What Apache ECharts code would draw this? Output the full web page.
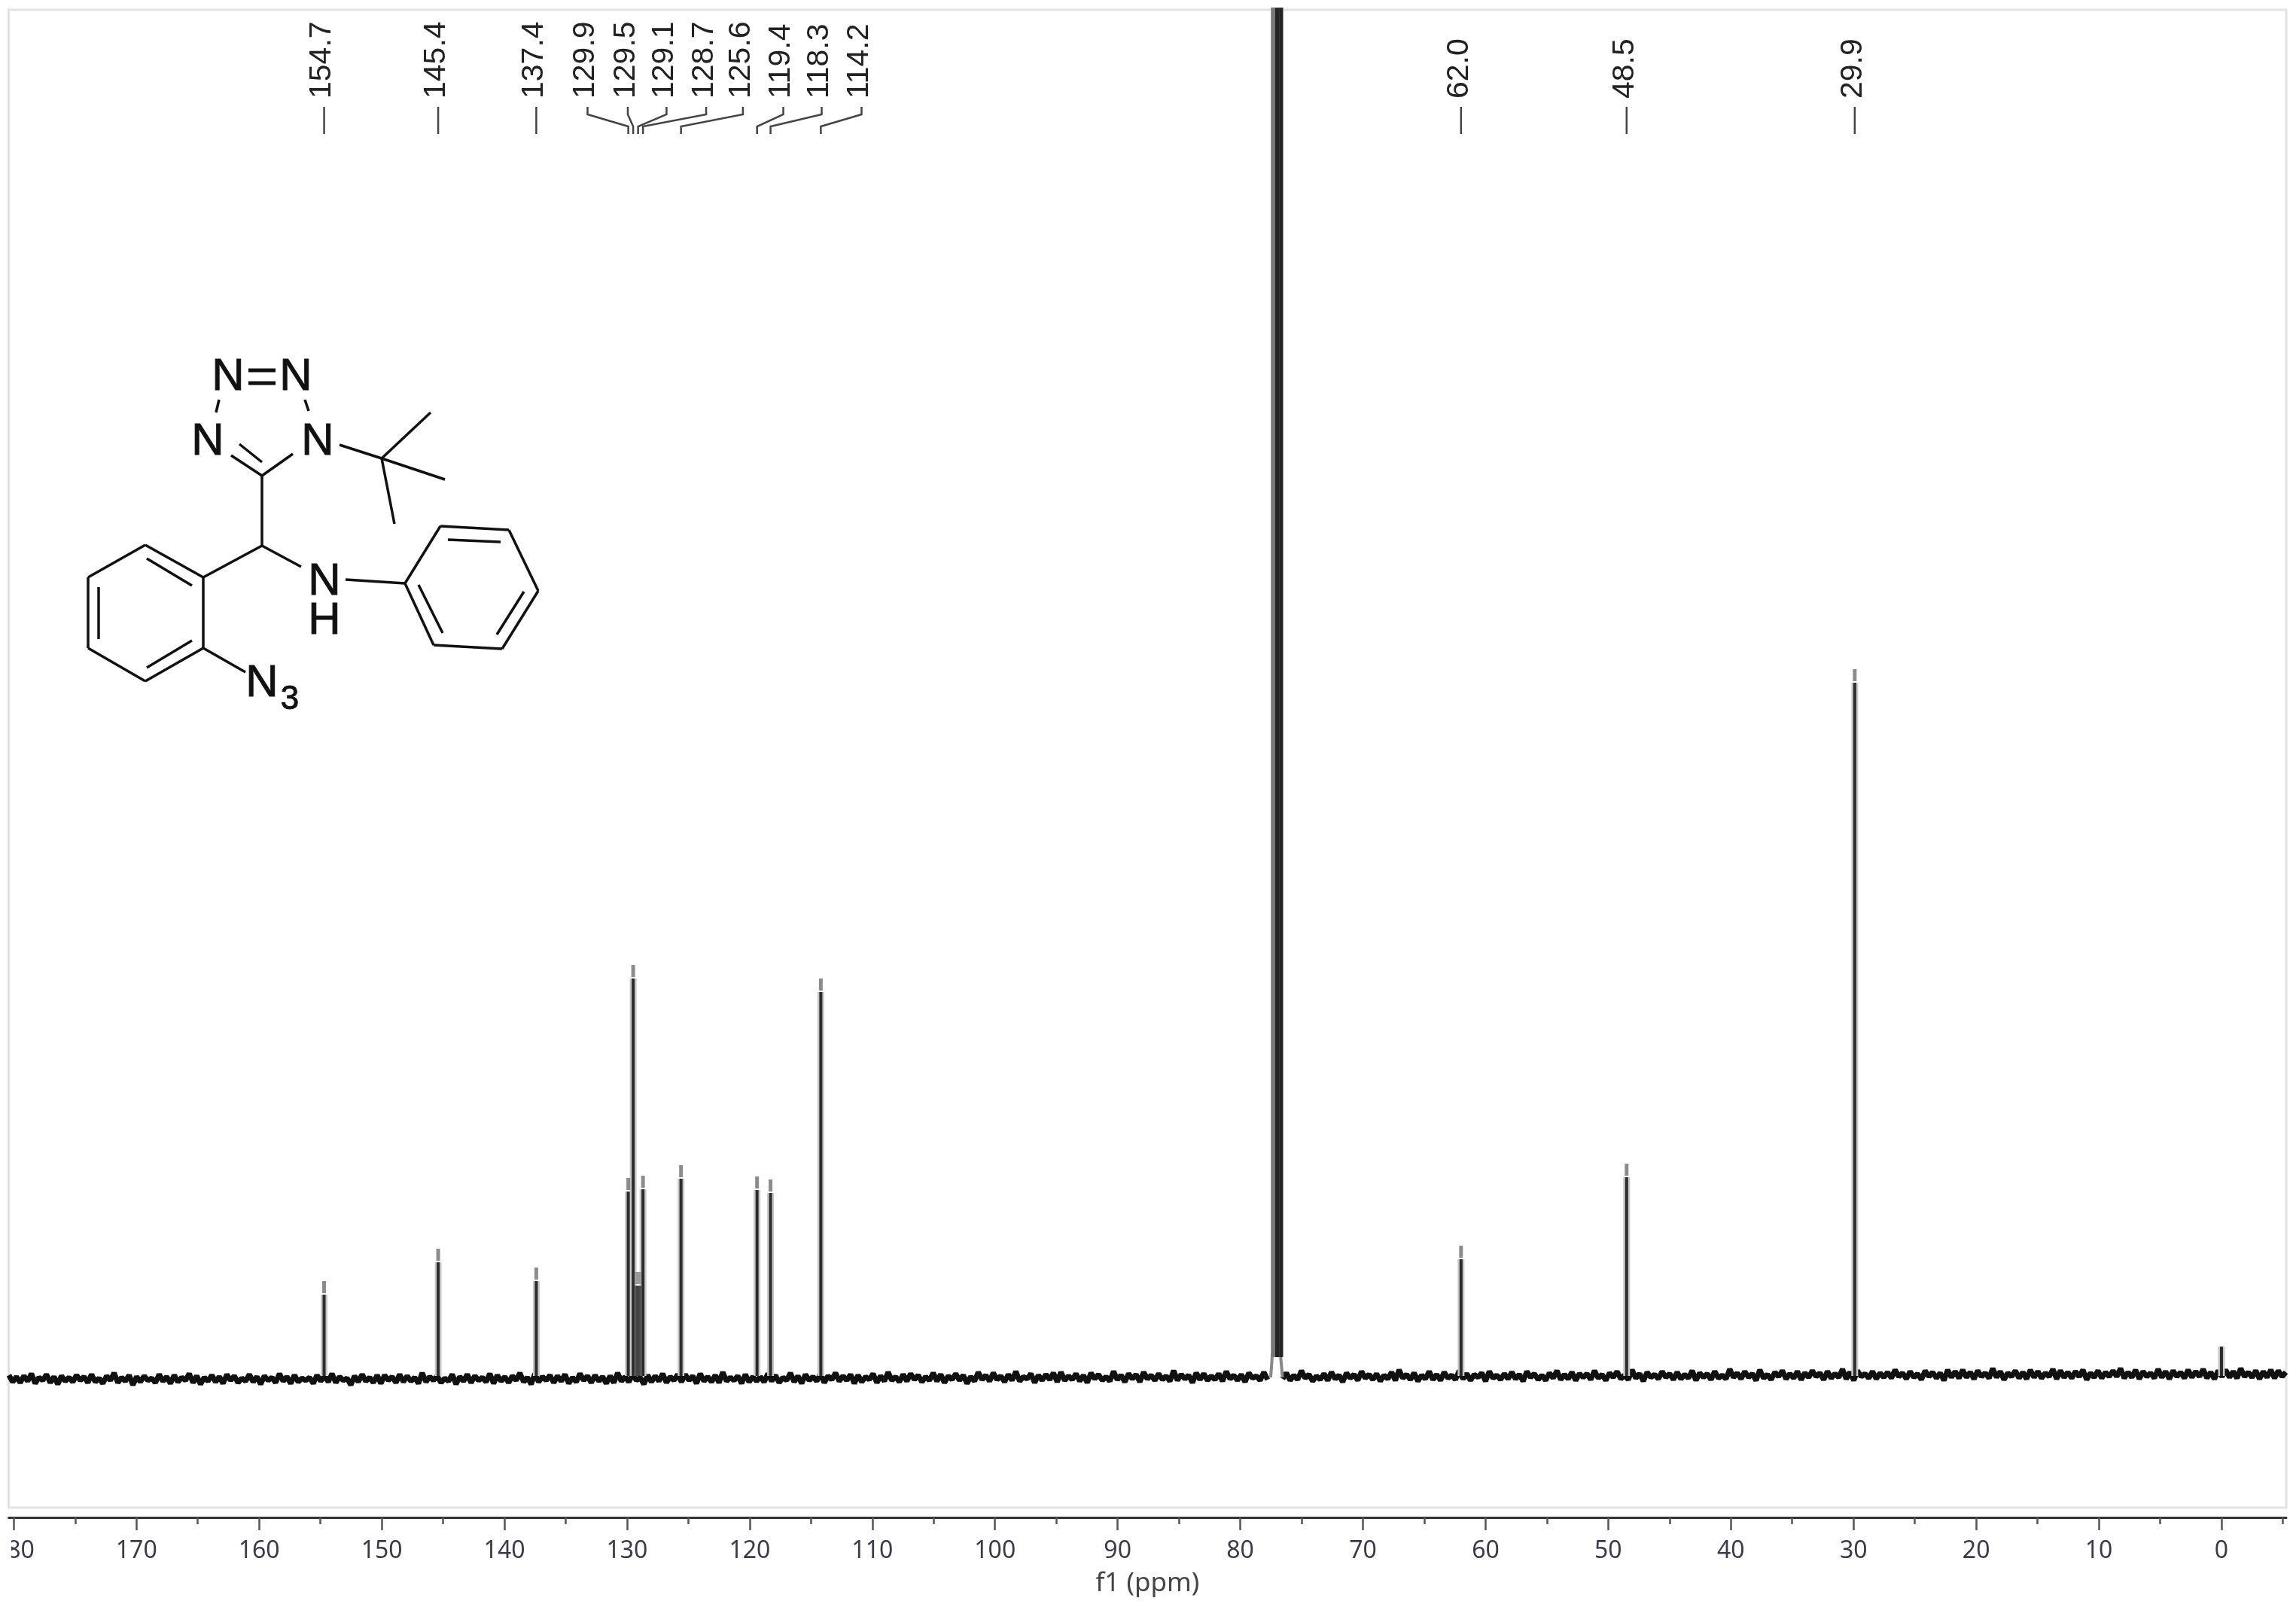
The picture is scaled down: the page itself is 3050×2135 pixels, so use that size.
<!DOCTYPE html>
<html><head><meta charset="utf-8">
<script src="https://cdn.jsdelivr.net/npm/echarts@6/dist/echarts.min.js"></script>
<style>html,body{margin:0;padding:0;background:#fff}#c{width:3050px;height:2135px}</style>
</head><body><div id="c"></div>
<script>
// ---- axis ----
const ppmLeft = 180.42, ppmRight = -5.28;
const majorTicks = [180,170,160,150,140,130,120,110,100,90,80,70,60,50,40,30,20,10,0];
const minorTicks = [175,165,155,145,135,125,115,105,95,85,75,65,55,45,35,25,15,5,-5];
// ---- peaks: position (ppm) and height above the baseline ----
const peakPpm    = [154.7,145.4,137.4,129.9,129.5,128.7,125.6,119.4,118.3,114.2,62.0,48.5,29.9,0.0];
const peakHeight = [126,  169,  144,  263,  546,  266,  280,  265,  261,  528,  173, 282, 939, 39];
// the broader, greyer line inside the aromatic cluster
const broadPpm = [129.1];
const broadHeight = [138];
// CDCl3 triplet, runs off the top of the frame
const solventPpm = [77.32,77.0,76.68];
const solventHeight = [3000,3000,3000];
const solventFoot = [25,25,25];
const solventGap = [77.52,76.56];
// ---- peak picking labels ----
const labelText = ['154.7','145.4','137.4','129.9','129.5','129.1','128.7','125.6','119.4','118.3','114.2','62.0','48.5','29.9'];
const labelPeak = [154.7,145.4,137.4,129.9,129.5,129.1,128.7,125.6,119.4,118.3,114.2,62.0,48.5,29.9];
const labelPos  = [154.7,145.4,137.4,133.22,129.94,126.78,123.55,120.55,117.26,114.13,110.88,62.0,48.5,29.9];
// ---- baseline noise, read as a jagged trace left to right ----
const baseline = [
1,-8,-1,-9,0,-7,3,-10,-2,-6,2,-9,-1,-11,0,-7,-2,-8,1,-6,
-1,-9,2,-8,-3,-10,0,-6,4,-9,-2,-7,1,-12,-1,-8,0,-6,-3,-9,
2,-7,-1,-10,1,-8,-2,-6,3,-9,0,-11,-2,-7,1,-8,-1,-10,2,-6,
0,-9,-3,-7,2,-8,-1,-11,0,-6,-2,-9,3,-7,-1,-10,1,-8,-3,-6,
-2,-10,1,-7,0,-8,3,-9,-1,-6,-3,-12,0,-8,2,-7,-2,-9,1,-10,
1,-6,-1,-9,2,-8,0,-7,-2,-10,4,-8,-1,-6,0,-9,-3,-7,2,-11,
-1,-7,2,-9,0,-6,-2,-8,3,-10,1,-7,-1,-9,0,-6,4,-8,-2,-11,
3,-8,-1,-6,1,-9,0,-7,2,-10,-2,-8,3,-6,0,-9,1,-7,-1,-10,
0,-9,4,-7,-1,-8,2,-6,-2,-11,1,-8,0,-7,3,-9,-1,-6,2,-8,
2,-6,0,-10,3,-7,-1,-8,1,-9,5,-7,-2,-6,0,-10,2,-8,-1,-7,
-1,-8,3,-7,1,-9,-2,-6,4,-8,0,-10,2,-6,-1,-7,3,-9,0,-5,
4,-7,0,-6,2,-10,1,-8,-1,-5,3,-9,0,-7,5,-6,-1,-8,2,-7,
3,-5,1,-8,-1,-6,4,-7,2,-9,0,-5,3,-6,1,-10,-1,-7,5,-5,
1,-7,4,-5,0,-8,2,-6,6,-7,-1,-4,3,-9,1,-6,2,-5,4,-8,
5,-6,0,-5,3,-7,1,-9,4,-4,2,-6,-1,-7,6,-5,1,-8,3,-4,
2,-8,5,-4,1,-6,3,-5,0,-7,7,-6,2,-4,1,-9,4,-5,3,-6,
0,-5,3,-7,6,-4,1,-6,2,-8,4,-3,0,-6,5,-5,2,-7,1,-4,
4,-6,1,-5,7,-3,2,-7,0,-5,3,-6,5,-4,1,-8,4,-3,2,-6,
6,-3,2,-5,3,-7,1,-4,5,-6,8,-3,2,-5,4,-7,1,-4,6,-5,
2,-6,5,-3,1,-5,7,-4,3,-6,2,-2,4,-7,6,-3,1,-5,3,-4,
5,-4,2,-7,6,-2,3,-5,1,-6,4,-3,7,-5,2,-4,5,-6,3,-2,
3,-5,7,-3,2,-6,4,-2,6,-4,1,-5,8,-3,3,-7,5,-2,2,-4,
6,-2,3,-5,5,-4,2,-3,7,-6,4,-2,3,-5,6,-3,1,-4,9,-2,
4,-4,6,-2,3,-6,8,-3,2,-5,5,-1,7,-4,3,-3,6,-5,4,-2,
7,-1,4,-5,6,-3,3,-2,9,-4,5,-6,7,-1,3,-3,6,-4,4,-2,
5,-3,8,-1,4,-4,6,-2,3,-5,7,-1,5,-3,4,-6,8,-2,6,-3,
8,-2,5,-4,7,-1,4,-3,10,-2,6,-5,4,-1,7,-3,5,-4,8,-2,
6,-3,4,-1,9,-4,7,-2,5,-3,6,-1,8,-5,4,-2,7,-3,5,-1,
7,-1,10,-3,5,-2,8,-4,6,-1,4,-3,9,-2,6,-4,7,-1,5,-3,
8,-2,6,-1,9,-3,5,-4,7,-1,8,-2,6,-3,10,-1,5,-2,7,-4,
6,-2,8,-3,7,-1,5
];
const baselineStart = 180.4, baselineEnd = -5.25;
// ---- structure drawing ----
const bonds = [
 [193,724,270,767],[270,767,270,861],[270,861,193,905],[193,905,117,861],[117,861,117,767],[117,767,193,724],
 [195,742,255,778],[131,780,131,849],[195,887,255,851],
 [270,767,348,725],[348,725,400,753],[348,725,348,632],
 [348,632,307,605],[348,614,318,590],[348,632,389,603],
 [291,531,287,548],[405,531,410,546],
 [451,591,507,609],[507,609,572,548],[507,609,591,637],[507,609,524,696],
 [459,770,538,775],[538,775,585,699],[585,699,676,704],[676,704,715,785],[715,785,667,862],[667,862,576,857],[576,857,538,775],
 [595,717,665,720],[556,777,588,841],[696,786,660,843],
 [270,861,326,893]
];
const heavyBonds = [[330,492,366,492],[330,509,366,509]];
const atoms = [['N',303,501,60],['N',393,501,60],['N',276,587,60],['N',422,587,60],['N',431,773,60],['H',431,825,60],['N',348,908,60],['3',385,930,44]];

const baseData = baseline.map((v,i)=>{
  const p = baselineStart + (baselineEnd-baselineStart)*i/(baseline.length-1);
  return (p<solventGap[0] && p>solventGap[1]) ? [p,null] : [p,v];
});
function sticks(ppm, from, to){
  const out=[]; ppm.forEach((p,i)=>{ out.push([p,from[i]],[p,to[i]],[p,null]); }); return out;
}
const zeros = peakPpm.map(()=>0);
const coreTop = peakHeight.map(h=>h>60?h-18:h);
const capFrom = peakHeight.map(h=>h>60?h-16:h);

const chart = echarts.init(document.getElementById('c'),null,{renderer:'canvas'});
const lineBase = {type:'line',showSymbol:false,symbol:'none',connectNulls:false,silent:true,animation:false,clip:true,xAxisIndex:0,yAxisIndex:0};
const axisBase = {type:'value',inverse:true,min:ppmRight,max:ppmLeft,position:'bottom',offset:13,splitLine:{show:false}};
chart.setOption({
  animation:false,backgroundColor:'#fff',
  grid:{left:11.5,right:13,top:13,bottom:132,containLabel:false,outerBoundsMode:'none',show:true,borderColor:'#e2e2e2',borderWidth:3,backgroundColor:'#fff'},
  xAxis:[
   {...axisBase,name:'f1 (ppm)',nameLocation:'middle',nameGap:71,nameTextStyle:{fontFamily:'Noto Sans',fontSize:35,color:'#444'},
    axisLine:{show:true,onZero:false,lineStyle:{color:'#333',width:3}},
    axisTick:{show:true,length:17,inside:false,customValues:majorTicks,lineStyle:{color:'#555',width:2.5}},
    axisLabel:{show:true,margin:29,fontFamily:'Noto Sans',fontSize:32,color:'#3a3a4a',customValues:majorTicks,formatter:v=>String(v)}},
   {...axisBase,axisLine:{show:false,onZero:false},
    axisTick:{show:true,length:9,customValues:minorTicks,lineStyle:{color:'#555',width:2.5}},
    axisLabel:{show:false}}
  ],
  yAxis:{type:'value',min:-175,max:1815,show:false},
  series:[
   {...lineBase,name:'baseline',data:baseData,z:3,lineStyle:{color:'#111',width:7,join:'bevel'}},
   {...lineBase,name:'peak halo',data:sticks(peakPpm,zeros,coreTop),z:4,lineStyle:{color:'#c8c8c8',width:9}},
   {...lineBase,name:'peak',data:sticks(peakPpm,zeros,coreTop),z:5,lineStyle:{color:'#2c2c2c',width:4}},
   {...lineBase,name:'peak cap',data:sticks(peakPpm,capFrom,peakHeight),z:5,lineStyle:{color:'#8c8c8c',width:5}},
   {...lineBase,name:'broad line',data:sticks(broadPpm,[0],broadHeight.map(h=>h-18)),z:4,lineStyle:{color:'#444',width:8}},
   {...lineBase,name:'broad cap',data:sticks(broadPpm,broadHeight.map(h=>h-16),broadHeight),z:4,lineStyle:{color:'#999',width:8}},
   {...lineBase,name:'solvent flank L',data:[[77.52,-2],[77.38,30]],z:4,lineStyle:{color:'#888',width:4}},
   {...lineBase,name:'solvent flank R',data:[[76.56,-2],[76.72,28]],z:4,lineStyle:{color:'#888',width:4}},
   {...lineBase,name:'solvent halo',data:sticks(solventPpm,solventFoot,solventHeight),z:4,lineStyle:{color:'#777',width:6}},
   {...lineBase,name:'solvent',data:sticks(solventPpm.slice(1),solventFoot.slice(1),solventHeight.slice(1)),z:5,lineStyle:{color:'#242424',width:5}},
   {type:'custom',name:'picks',silent:true,animation:false,clip:false,z:6,xAxisIndex:0,yAxisIndex:0,
    data:labelText.map((t,i)=>[labelPeak[i],labelPos[i]]),
    encode:{x:0},
    renderItem:(params,api)=>{
      const peak=api.value(0), pos=api.value(1), txt=labelText[params.dataIndex];
      const xp=api.coord([peak,0])[0], xl=api.coord([pos,0])[0];
      const yT=api.coord([0,1686])[1], yA=api.coord([0,1676])[1], yB=api.coord([0,1660])[1], yE=api.coord([0,1650])[1], yLab=api.coord([0,1697])[1];
      const pts = Math.abs(xp-xl)<1 ? [[xp,yT],[xp,yE]] : [[xl,yT],[xl,yA],[xp,yB],[xp,yE]];
      return {type:'group',children:[
        {type:'polyline',shape:{points:pts},style:{stroke:'#444',lineWidth:2.5,fill:null}},
        {type:'text',x:xl-2.5,y:yLab,rotation:Math.PI/2,style:{text:txt,font:'41px "Liberation Sans"',fill:'#222',textAlign:'left',textVerticalAlign:'middle'}}
      ]};
    }}
  ],
  graphic:[
    ...bonds.map(b=>({type:'line',silent:true,z:10,shape:{x1:b[0],y1:b[1],x2:b[2],y2:b[3]},style:{stroke:'#111',lineWidth:3.5}})),
    ...heavyBonds.map(b=>({type:'line',silent:true,z:10,shape:{x1:b[0],y1:b[1],x2:b[2],y2:b[3]},style:{stroke:'#111',lineWidth:5}})),
    ...atoms.map(a=>({type:'text',silent:true,z:10,x:a[1],y:a[2],style:{text:a[0],font:a[3]+'px "Liberation Sans"',fill:'#111',stroke:'#111',lineWidth:1,textAlign:'center',textVerticalAlign:'middle'}})),
    {type:'rect',silent:true,z:20,shape:{x:0,y:2045,width:15,height:50},style:{fill:'#fff'}}
  ]
});
</script></body></html>
